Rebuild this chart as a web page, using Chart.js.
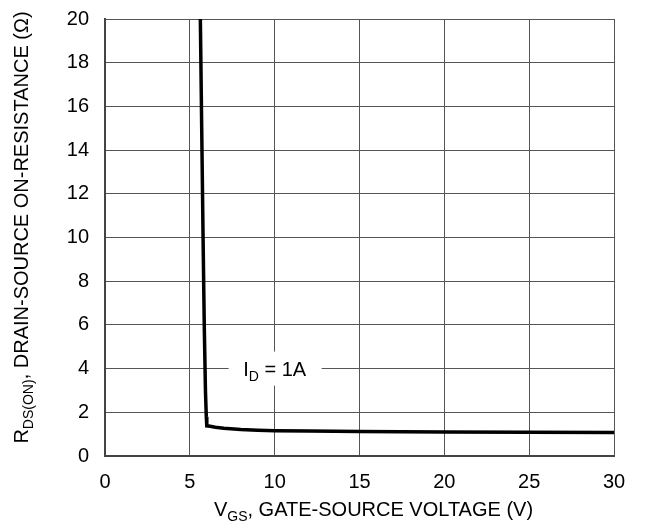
<!DOCTYPE html>
<html>
<head>
<meta charset="utf-8">
<script src="https://cdn.jsdelivr.net/npm/chart.js@4/dist/chart.umd.min.js"></script>
<style>
  html, body { margin: 0; padding: 0; background: #fff; }
  #wrap { width: 645px; height: 529px; position: relative; }
</style>
</head>
<body>
<div id="wrap"><canvas id="c"></canvas></div>
<script>
// Data
const vgs = [5.62, 5.70, 5.78, 5.85, 5.92, 5.97, 6.00, 6.2, 6.5, 7.0, 8.0, 9.0, 10, 12, 15, 20, 25, 30];
const rds = [20, 15, 10, 6, 3, 1.8, 1.38, 1.36, 1.32, 1.27, 1.21, 1.18, 1.16, 1.14, 1.12, 1.10, 1.09, 1.08];
const xTicks = [0, 5, 10, 15, 20, 25, 30];
const yTicks = [0, 2, 4, 6, 8, 10, 12, 14, 16, 18, 20];
const annotation = { x: 10, y: 4, main: 'I', sub: 'D', rest: ' = 1A' };
const xTitle = { main: 'V', sub: 'GS', rest: ', GATE-SOURCE VOLTAGE (V)' };
const yTitle = { main: 'R', sub: 'DS(ON)', rest: ', DRAIN-SOURCE ON-RESISTANCE (Ω)' };

const FONT = 'Liberation Sans, Arial, sans-serif';
const FS = 20;

function drawSubText(ctx, parts, size, cx, cy) {
  const subSize = Math.round(size * 0.7);
  ctx.font = size + 'px ' + FONT;
  const w1 = ctx.measureText(parts.main).width;
  const w3 = ctx.measureText(parts.rest).width;
  ctx.font = subSize + 'px ' + FONT;
  const w2 = ctx.measureText(parts.sub).width;
  const total = w1 + w2 + w3;
  let x = cx - total / 2;
  ctx.textBaseline = 'alphabetic';
  ctx.textAlign = 'left';
  const base = cy + size * 0.36;
  ctx.font = size + 'px ' + FONT;
  ctx.fillText(parts.main, x, base); x += w1;
  ctx.font = subSize + 'px ' + FONT;
  ctx.fillText(parts.sub, x, base + size * 0.25); x += w2;
  ctx.font = size + 'px ' + FONT;
  ctx.fillText(parts.rest, x, base);
  return total;
}

const overlay = {
  id: 'overlay',
  afterDatasetsDraw(chart) {
    const ctx = chart.ctx;
    const xs = chart.scales.x, ys = chart.scales.y;
    const px = xs.getPixelForValue(annotation.x);
    const py = ys.getPixelForValue(annotation.y);
    ctx.save();
    ctx.fillStyle = '#fff';
    ctx.fillRect(px - 46, py - 17, 93, 34);
    ctx.fillStyle = '#000';
    drawSubText(ctx, annotation, FS, px, py);
    ctx.restore();
  },
  afterDraw(chart) {
    const ctx = chart.ctx;
    const a = chart.chartArea;
    ctx.save();
    ctx.fillStyle = '#000';
    drawSubText(ctx, xTitle, FS, (a.left + a.right) / 2 + 14, 509);
    ctx.translate(21, (a.top + a.bottom) / 2 - 10);
    ctx.rotate(-Math.PI / 2);
    drawSubText(ctx, yTitle, FS, 0, 0);
    ctx.restore();
  }
};

new Chart(document.getElementById('c'), {
  type: 'scatter',
  data: {
    datasets: [{
      data: vgs.map((v, i) => ({ x: v, y: rds[i] })),
      showLine: true,
      borderColor: '#000',
      borderWidth: 3.5,
      pointRadius: 0,
      tension: 0,
      fill: false
    }]
  },
  options: {
    responsive: true,
    maintainAspectRatio: false,
    animation: false,
    devicePixelRatio: 1,
    layout: { padding: { left: 0, right: 31, top: 19, bottom: 0 } },
    plugins: { legend: { display: false }, tooltip: { enabled: false } },
    scales: {
      x: {
        type: 'linear', min: 0, max: 30,
        afterBuildTicks: s => { s.ticks = xTicks.map(v => ({ value: v })); },
        afterFit: s => { s.height = 73; s.paddingLeft = 0; s.paddingRight = 0; },
        grid: { color: '#555', lineWidth: 1, drawTicks: false },
        border: { color: '#444', width: 2 },
        ticks: { color: '#000', padding: 14, font: { family: FONT, size: FS }, maxRotation: 0 }
      },
      y: {
        type: 'linear', min: 0, max: 20,
        afterBuildTicks: s => { s.ticks = yTicks.map(v => ({ value: v })); },
        afterFit: s => { s.width = 105; s.paddingTop = 0; s.paddingBottom = 0; },
        grid: { color: '#555', lineWidth: 1, drawTicks: false },
        border: { color: '#444', width: 2 },
        ticks: { color: '#000', padding: 16, font: { family: FONT, size: FS } }
      }
    }
  },
  plugins: [overlay]
});
</script>
</body>
</html>
